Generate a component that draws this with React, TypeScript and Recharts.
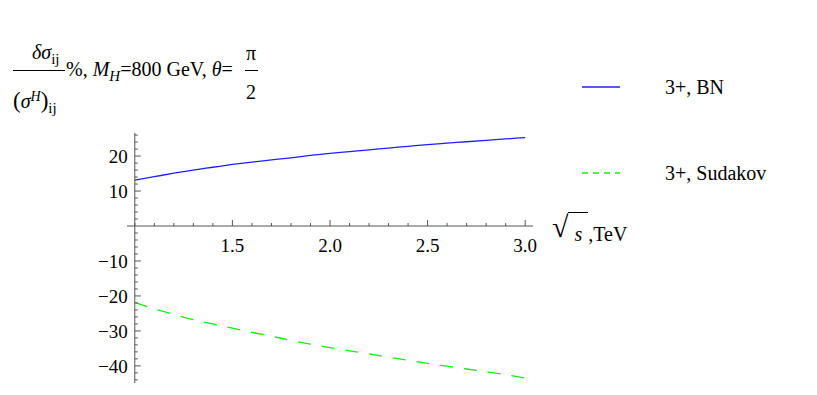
import { LineChart, Line, XAxis, YAxis, ReferenceLine } from 'recharts';

// sqrt(s) in TeV
const energies = [1.0, 1.1, 1.2, 1.3, 1.4, 1.5, 1.6, 1.7, 1.8, 1.9, 2.0, 2.1, 2.2, 2.3, 2.4, 2.5, 2.6, 2.7, 2.8, 2.9, 3.0];
const bnValues = [13.1, 14.1, 15.1, 16.0, 16.8, 17.6, 18.3, 18.9, 19.5, 20.2, 20.8, 21.3, 21.8, 22.3, 22.8, 23.3, 23.7, 24.1, 24.5, 24.9, 25.3];
const sudakovValues = [-21.9, -23.7, -25.3, -26.8, -28.0, -29.2, -30.4, -31.5, -32.7, -33.8, -34.8, -35.7, -36.6, -37.5, -38.4, -39.3, -40.1, -40.9, -41.7, -42.5, -43.5];

const xTicks = [1.0, 1.1, 1.2, 1.3, 1.4, 1.5, 1.6, 1.7, 1.8, 1.9, 2.0, 2.1, 2.2, 2.3, 2.4, 2.5, 2.6, 2.7, 2.8, 2.9, 3.0];
const xLabels = ['1.5', '2.0', '2.5', '3.0'];
const yTicks = [-44, -42, -40, -38, -36, -34, -32, -30, -28, -26, -24, -22, -20, -18, -16, -14, -12, -10, -8, -6, -4, -2, 2, 4, 6, 8, 10, 12, 14, 16, 18, 20, 22, 24, 26];
const yLabels = ['-40', '-30', '-20', '-10', '10', '20'];

const series = [
  { key: 'bn', name: '3+, BN', color: '#2020ff', dash: undefined as string | undefined, legendDash: undefined as string | undefined },
  { key: 'sudakov', name: '3+, Sudakov', color: '#14ea14', dash: '13 11', legendDash: '6 5' },
];

const data = energies.map((x, i) => ({ x, bn: bnValues[i], sudakov: sudakovValues[i] }));

const W = 817;
const H = 395;
const Y_AXIS_W = 127;
const X_AXIS_H = 12;
const MARGIN = { top: 133, right: 284, bottom: 0, left: 0 };
const X_DOMAIN: [number, number] = [0.96, 3.04];
const Y_DOMAIN: [number, number] = [-44.9, 26.6];
const PLOT_LEFT = MARGIN.left + Y_AXIS_W;
const PLOT_W = W - PLOT_LEFT - MARGIN.right;
const PLOT_H = H - MARGIN.top - MARGIN.bottom - X_AXIS_H;
// where the axes cross (x = 1, y = 0), from the same domains the scales use
const AXIS_X = PLOT_LEFT + (PLOT_W * (1 - X_DOMAIN[0])) / (X_DOMAIN[1] - X_DOMAIN[0]);
const AXIS_Y = MARGIN.top + (PLOT_H * Y_DOMAIN[1]) / (Y_DOMAIN[1] - Y_DOMAIN[0]);

const SERIF = '"Liberation Serif", "DejaVu Serif", serif';
const AXIS_COLOR = '#555';

const XTick = ({ x, payload }: any) => {
  const label = xLabels.find((l) => Math.abs(parseFloat(l) - payload.value) < 1e-6);
  const len = label ? 6 : 3;
  return (
    <g>
      <line x1={x} x2={x} y1={AXIS_Y} y2={AXIS_Y - len} stroke={AXIS_COLOR} />
      {label && (
        <text x={x} y={AXIS_Y + 26} textAnchor="middle" fontFamily={SERIF} fontSize={19} fill="#000">
          {label}
        </text>
      )}
    </g>
  );
};

const YTick = ({ y, payload }: any) => {
  const label = yLabels.find((l) => parseFloat(l) === payload.value);
  const len = label ? 6 : 3;
  return (
    <g>
      <line x1={AXIS_X} x2={AXIS_X + len} y1={y} y2={y} stroke={AXIS_COLOR} />
      {label && (
        <text x={AXIS_X - 7} y={y + 6.8} textAnchor="end" fontFamily={SERIF} fontSize={19} fill="#000">
          {label.replace('-', '\u2212')}
        </text>
      )}
    </g>
  );
};

const sub = { fontSize: 15, verticalAlign: '-0.35em' } as const;
const txt = { position: 'absolute', fontFamily: SERIF, fontSize: 20, lineHeight: '20px', whiteSpace: 'nowrap', color: '#000' } as const;

export default function App() {
  return (
    <div style={{ position: 'absolute', left: 0, top: 0, width: W, height: H, background: '#fff', fontFamily: SERIF }}>
      <LineChart width={W} height={H} data={data} margin={MARGIN}>
        <XAxis
          type="number"
          dataKey="x"
          domain={X_DOMAIN}
          ticks={xTicks}
          interval={0}
          height={X_AXIS_H}
          axisLine={false}
          tickLine={false}
          tick={<XTick />}
        />
        <YAxis
          type="number"
          domain={Y_DOMAIN}
          ticks={yTicks}
          interval={0}
          width={Y_AXIS_W}
          axisLine={false}
          tickLine={false}
          tick={<YTick />}
        />
        <ReferenceLine y={0} stroke={AXIS_COLOR} strokeWidth={1} />
        <ReferenceLine x={1} stroke={AXIS_COLOR} strokeWidth={1} />
        {series.map((s) => (
          <Line
            key={s.key}
            type="monotone"
            dataKey={s.key}
            name={s.name}
            stroke={s.color}
            strokeWidth={1.3}
            strokeDasharray={s.dash}
            dot={false}
            isAnimationActive={false}
          />
        ))}
      </LineChart>

      {/* legend */}
      {series.map((s, i) => (
        <div key={s.key} style={{ ...txt, left: 581, top: 77 + i * 86, display: 'flex', alignItems: 'center', height: 20 }}>
          <svg width={40} height={4} style={{ marginRight: 44 }}>
            <line x1={1} x2={39} y1={2} y2={2} stroke={s.color} strokeWidth={1.3} strokeDasharray={s.legendDash} />
          </svg>
          <span style={{ fontFamily: SERIF }}>{s.name}</span>
        </div>
      ))}

      {/* y-axis title: δσ_ij / (σ^H)_ij %, M_H = 800 GeV, θ = π/2 */}
      <div style={{ ...txt, left: 32, top: 42 }}>
        <i>δσ</i><span style={sub}>ij</span>
      </div>
      <div style={{ position: 'absolute', left: 13, top: 70, width: 52, height: 1, background: '#000' }} />
      <div style={{ ...txt, left: 13, top: 87 }}>
        <span style={{ fontSize: 23 }}>(</span><i>σ</i>
        <span style={{ fontSize: 14, verticalAlign: '0.5em' }}><i>H</i></span>
        <span style={{ fontSize: 23 }}>)</span><span style={sub}>ij</span>
      </div>
      <div style={{ ...txt, left: 66, top: 59 }}>
        %, <i>M</i><span style={{ ...sub, fontStyle: 'italic' }}>H</span>=800 GeV, <i>θ</i>=
      </div>
      <div style={{ ...txt, left: 246, top: 43 }}>π</div>
      <div style={{ position: 'absolute', left: 245, top: 70, width: 13, height: 1, background: '#000' }} />
      <div style={{ ...txt, left: 246, top: 82 }}>2</div>

      {/* x-axis title */}
      <div style={{ ...txt, left: 552, top: 210, display: 'flex', alignItems: 'flex-start' }}>
        <span style={{ fontSize: 30, lineHeight: '34px' }}>√</span>
        <span style={{ borderTop: '1px solid #000', marginTop: 2, paddingTop: 11, paddingLeft: 6, paddingRight: 6 }}><i>s</i></span>
        <span style={{ paddingTop: 14 }}>,TeV</span>
      </div>
    </div>
  );
}
